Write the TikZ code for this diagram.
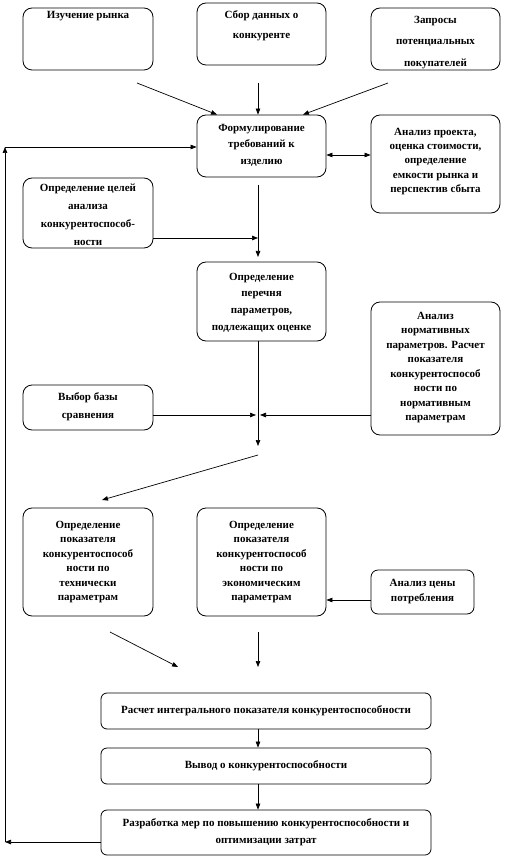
\documentclass[tikz,border=0pt]{standalone}
\usepackage{fontspec}
\setmainfont{Liberation Serif}
\usetikzlibrary{arrows.meta, positioning}

\begin{document}
\begin{tikzpicture}[x=1pt, y=-1pt, >={Triangle[length=6pt, width=4.5pt]}, line width=0.7pt,
  blk/.style={draw, rounded corners=9pt, inner sep=0pt, line width=0.8pt},
  txt/.style={font=\bfseries\fontsize{11}{#1}\selectfont, align=center, inner sep=0pt},
  txt/.default=14.5]
  \useasboundingbox (0,0) rectangle (504,858);
  % blocks
  \node[blk, minimum width=130pt, minimum height=62pt] (study) at (88,39) {};
  \node[blk, minimum width=129pt, minimum height=62pt] (collect) at (261.5,34) {};
  \node[blk, minimum width=129pt, minimum height=62pt] (request) at (435.5,39) {};
  \node[blk, minimum width=129pt, minimum height=62pt] (formul) at (261.5,146) {};
  \node[blk, minimum width=129pt, minimum height=98pt] (project) at (435.5,164) {};
  \node[blk, minimum width=130pt, minimum height=70pt] (goals) at (88,213) {};
  \node[blk, minimum width=129pt, minimum height=79pt] (params) at (261.5,301.5) {};
  \node[blk, minimum width=129pt, minimum height=133pt] (norm) at (435.5,368.5) {};
  \node[blk, minimum width=130pt, minimum height=45pt] (base) at (88,407.5) {};
  \node[blk, minimum width=130pt, minimum height=108pt] (tech) at (88,562) {};
  \node[blk, minimum width=129pt, minimum height=108pt] (econ) at (261.5,562) {};
  \node[blk, minimum width=103pt, minimum height=44pt, rounded corners=7pt, txt=15] (price) at (422.5,592) {Анализ цены\\потребления};
  \node[blk, minimum width=330pt, minimum height=36pt, rounded corners=6pt, txt] (integr) at (266,711) {Расчет интегрального показателя конкурентоспособности};
  \node[blk, minimum width=330pt, minimum height=36pt, rounded corners=6pt, txt] (concl) at (266,766) {Вывод о конкурентоспособности};
  \node[blk, minimum width=330pt, minimum height=45pt, rounded corners=6pt] (measures) at (266,832.5) {};
  % texts
  \node[txt, below=3pt of study.north] (study-t) {Изучение рынка};
  \node[txt=20, below=8pt of collect.north] (collect-t) {Сбор данных о\\конкуренте};
  \node[txt=21.5, below=8pt of request.north] (request-t) {Запросы\\потенциальных\\покупателей};
  \node[txt=16.5, below=9pt of formul.north] (formul-t) {Формулирование\\требований к\\изделию};
  \node[txt=14.3, below=13pt of project.north] (project-t) {Анализ проекта,\\оценка стоимости,\\определение\\емкости рынка и\\перспектив сбыта};
  \node[txt=18, below=6pt of goals.north] (goals-t) {Определение целей\\анализа\\конкурентоспособ-\\ности};
  \node[txt=16.7, below=11pt of params.north] (params-t) {Определение\\перечня\\параметров,\\подлежащих оценке};
  \node[txt, below=10pt of norm.north] (norm-t) {Анализ\\нормативных\\параметров. Расчет\\показателя\\конкурентоспособ\\ности по\\нормативным\\параметрам};
  \node[txt=18, below=8pt of base.north] (base-t) {Выбор базы\\сравнения};
  \node[txt, below=13pt of tech.north] (tech-t) {Определение\\показателя\\конкурентоспособ\\ности по\\технически\\параметрам};
  \node[txt, below=13pt of econ.north] (econ-t) {Определение\\показателя\\конкурентоспособ\\ности по\\экономическим\\параметрам};
  \node[txt=17, below=9pt of measures.north] (measures-t) {Разработка мер по повышению конкурентоспособности и\\оптимизации затрат};
  % free ends
  \coordinate (axis) at (258,0);
  \coordinate (s1) at (137,83);
  \coordinate (s2) at (258,83);
  \coordinate (s3) at (388,83);
  \coordinate (v1) at (258,185);
  \coordinate (v2) at (258,257);
  \coordinate (j1) at (258,238);
  \coordinate (v4) at (258,446);
  \coordinate (j2) at (256,415);
  \coordinate (j3) at (260,415);
  \coordinate (d1) at (258,455);
  \coordinate (d2) at (102,500);
  \coordinate (d3) at (110,632);
  \coordinate (d4) at (178,667);
  \coordinate (v5) at (258,632);
  \coordinate (v6) at (258,667);
  \coordinate (fb1) at (5,842);
  \coordinate (fb2) at (5,147);
  % connectors
  \draw[->] (s1) -- ([xshift=-44.5pt]formul.north);
  \draw[->] (s2) -- (s2 |- formul.north);
  \draw[->] (s3) -- ([xshift=41.5pt]formul.north);
  \draw[<->] ([yshift=-9pt]formul.east) -- ([yshift=9pt]project.west);
  \draw[->] (v1) -- (v2);
  \draw[->] (goals.east |- j1) -- (j1);
  \draw[->] (axis |- params.south) -- (v4);
  \draw[->] (base.east |- j2) -- (j2);
  \draw[->] (norm.west |- j3) -- (j3);
  \draw[->] (d1) -- (d2);
  \draw[->] ([yshift=-8pt]price.west) -- ([yshift=-8pt]price.west -| econ.east);
  \draw[->] (d3) -- (d4);
  \draw[->] (v5) -- (v6);
  \draw[->] (axis |- integr.south) -- (axis |- concl.north);
  \draw[->] (axis |- concl.south) -- (axis |- measures.north);
  \draw[->] ([yshift=-9.5pt]measures.west) -- (fb1);
  \draw[->] (fb1) -- (fb2);
  \draw[->] (fb2) -- (fb2 -| formul.west);
\end{tikzpicture}
\end{document}
